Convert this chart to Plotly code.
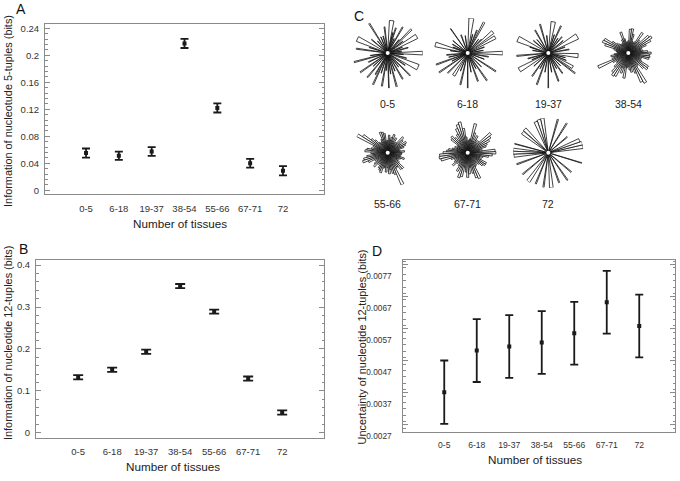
import plotly.graph_objects as go

W, H = 680, 481
FONT = "Liberation Sans, Arial, sans-serif"

# ---------------- data ----------------
categories = ["0-5", "6-18", "19-37", "38-54", "55-66", "67-71", "72"]

info5 = [0.055, 0.051, 0.0574, 0.2177, 0.122, 0.040, 0.0289]
info5_err = [0.0068, 0.0062, 0.0065, 0.0068, 0.0068, 0.0065, 0.0068]

info12 = [0.1323, 0.150, 0.193, 0.350, 0.289, 0.129, 0.048]
info12_err = [0.005, 0.005, 0.005, 0.005, 0.005, 0.005, 0.005]

unc12 = [0.00372, 0.00502, 0.00515, 0.00527, 0.00556, 0.00653, 0.00579]
unc12_err = [0.00099, 0.00098, 0.00098, 0.00098, 0.00098, 0.00098, 0.00098]

ticks5 = [0, 0.04, 0.08, 0.12, 0.16, 0.2, 0.24]
ticks12 = [0, 0.1, 0.2, 0.3, 0.4]
ticks_unc = [0.0027, 0.0037, 0.0047, 0.0057, 0.0067, 0.0077]

# radial glyphs (panel C): sparse glyphs as (angle, length, width)
ang_0_5 = [83, 76, 72, 66, 60, 50, 45, 38, 30, 22, 15, 8, 0, -5, -15, -25, -35, -45, -52, -60, -68, -75, -82, -88, -95, -100, -108, -115, -120, -130, -138, -145, -155, -165, -172, 172, 163, 155, 140, 130, 122, 113, 105, 97]
r_0_5 = [0.93, 0.6, 0.75, 0.45, 0.85, 0.5, 0.95, 0.55, 0.95, 0.45, 0.6, 0.4, 1.0, 0.45, 0.55, 0.95, 0.6, 0.9, 0.5, 0.85, 0.55, 1.0, 0.6, 1.0, 0.5, 0.95, 0.6, 1.0, 0.7, 0.9, 0.55, 0.95, 0.6, 1.0, 0.5, 0.9, 0.55, 0.95, 0.6, 0.45, 1.0, 0.5, 0.5, 0.75]
w_0_5 = [8, 1, 2, 1, 2, 1, 3, 1, 8, 1, 2, 1, 6, 1, 2, 10, 2, 2, 1, 2, 1, 2, 1, 1, 1, 2, 1, 2, 2, 2, 1, 2, 2, 2, 1, 2, 1, 9, 2, 1, 2, 1, 2, 2]

ang_6_18 = [84, 75, 68, 62, 52, 45, 40, 30, 20, 10, 0, -10, -20, -33, -45, -55, -62, -70, -80, -90, -103, -112, -122, -135, -146, -153, -160, -168, -175, 172, 165, 158, 150, 140, 125, 110, 98]
r_6_18 = [1.0, 0.55, 0.7, 1.0, 0.5, 0.55, 0.93, 0.9, 0.5, 0.45, 1.0, 0.6, 0.5, 0.95, 0.55, 0.95, 0.5, 0.85, 0.55, 1.0, 0.92, 0.55, 0.75, 0.8, 0.98, 0.5, 0.95, 0.55, 0.6, 0.5, 0.95, 0.45, 0.5, 0.55, 0.85, 0.55, 0.5]
w_6_18 = [8, 1, 2, 3, 1, 2, 6, 6, 2, 1, 6, 2, 1, 2, 1, 2, 1, 2, 1, 1, 2, 1, 6, 2, 2, 1, 2, 1, 2, 1, 8, 1, 2, 1, 1, 2, 1]

ang_19_37 = [81, 106, 95, 72, 65, 57, 50, 40, 30, 20, 10, -5, -15, -22, -30, -37, -46, -55, -62, -70, -80, -90, -100, -110, -118, -125, -138, -150, -158, -165, -175, 170, 162, 155, 140, 130, 120]
r_19_37 = [0.9, 0.85, 0.5, 0.55, 0.85, 0.5, 0.6, 0.55, 0.95, 0.5, 0.6, 0.85, 0.5, 0.55, 0.8, 0.95, 0.5, 0.7, 0.5, 0.85, 0.55, 1.0, 0.55, 0.95, 0.5, 0.8, 0.55, 0.95, 0.5, 0.6, 0.9, 0.45, 0.55, 0.95, 0.55, 0.5, 0.75]
w_19_37 = [8, 2, 2, 1, 2, 1, 2, 1, 10, 2, 2, 8, 1, 1, 6, 2, 1, 2, 1, 2, 1, 1, 1, 2, 1, 2, 1, 8, 1, 2, 2, 2, 1, 10, 2, 1, 2]

ang_72 = [100, 106, 112, 135, 142, 74, 58, 40, 10, 16, 22, -17, -40, -55, -70, -85, -98, -112, -125, -140, -160, 175, 180, 185, 165]
r_72 = [1.0, 0.98, 0.95, 0.95, 0.93, 1.0, 1.0, 0.7, 1.0, 1.0, 0.95, 1.0, 0.85, 0.95, 0.9, 1.0, 1.0, 0.95, 1.0, 0.95, 0.95, 1.0, 1.0, 0.98, 1.0]
w_72 = [6, 6, 6, 6, 6, 2, 2, 2, 6, 6, 6, 1, 2, 2, 2, 6, 2, 2, 6, 2, 2, 5, 5, 5, 1]

# dense glyphs: lengths every 5 degrees starting at 0 (east), counter-clockwise
dense_angles = list(range(0, 360, 5))
r_38_54 = [0.65, 0.55, 0.42, 0.36, 0.4, 0.55, 0.72, 0.8, 0.75, 0.42, 0.48, 0.7,
           0.36, 0.32, 0.35, 0.55, 0.7, 0.68, 0.35, 0.3, 0.32, 0.42, 0.63, 0.42,
           0.33, 0.3, 0.32, 0.36, 0.42, 0.55, 0.78, 0.8, 0.7, 0.42, 0.35, 0.32,
           0.3, 0.4, 0.5, 0.4, 0.48, 0.94, 0.5, 0.4, 0.42, 0.55, 0.7, 0.78,
           0.75, 0.45, 0.6, 0.42, 0.72, 0.42, 0.38, 0.48, 0.55, 0.4, 0.6, 0.9,
           0.97, 0.45, 0.42, 0.6, 0.7, 0.68, 0.42, 0.36, 0.4, 0.6, 0.62, 0.6]
r_55_66 = [0.4, 0.48, 0.36, 0.33, 0.48, 0.55, 0.6, 0.42, 0.55, 0.62, 0.38, 0.33,
           0.48, 0.36, 0.55, 0.45, 0.36, 0.5, 0.35, 0.33, 0.55, 0.6, 0.62, 0.42,
           0.36, 0.33, 0.38, 0.5, 0.6, 0.85, 1.0, 0.45, 0.36, 0.48, 0.6, 0.65,
           0.48, 0.42, 0.6, 0.7, 0.75, 0.6, 0.42, 0.36, 0.48, 0.55, 0.42, 0.36,
           0.5, 0.55, 0.6, 0.45, 0.42, 0.55, 0.42, 0.6, 0.48, 0.6, 0.65, 1.0,
           0.5, 0.48, 0.6, 0.62, 0.42, 0.36, 0.33, 0.4, 0.5, 0.38, 0.33, 0.4]
r_67_71 = [0.8, 0.78, 0.42, 0.36, 0.55, 0.6, 0.7, 0.78, 0.85, 0.45, 0.36, 0.45,
           0.55, 0.36, 0.6, 0.85, 0.4, 0.36, 0.33, 0.45, 0.7, 0.9, 0.85, 0.75,
           0.6, 0.42, 0.55, 0.65, 0.6, 0.36, 0.33, 0.4, 0.33, 0.45, 0.55, 0.6,
           0.7, 0.8, 0.82, 0.78, 0.5, 0.42, 0.36, 0.45, 0.55, 0.42, 0.36, 0.45,
           0.6, 0.45, 0.75, 0.7, 0.42, 0.55, 0.7, 0.6, 0.42, 0.6, 0.75, 0.8,
           0.45, 0.42, 0.36, 0.45, 0.55, 0.6, 0.6, 0.42, 0.36, 0.45, 0.6, 0.7]

# ---------------- figure ----------------
fig = go.Figure()

def px_x(x):
    return x / W

def px_y(y):
    return 1 - y / H

panels = [
    (info5, info5_err, "x", "y", 4),
    (info12, info12_err, "x2", "y2", 5),
    (unc12, unc12_err, "x3", "y3", 4),
]
xs = list(range(len(categories)))
for vals, errs, xa, ya, cw in panels:
    fig.add_trace(go.Scatter(
        x=xs, y=vals, mode="markers", xaxis=xa, yaxis=ya,
        marker=dict(symbol="square", size=4, color="#1a1a1a"),
        error_y=dict(type="data", array=errs, visible=True, color="#1a1a1a",
                     thickness=1.8, width=cw),
        showlegend=False, hoverinfo="skip",
    ))

glyphs = [
    ("0-5", ang_0_5, r_0_5, w_0_5, 387.7, 52.3, 0.8),
    ("6-18", ang_6_18, r_6_18, w_6_18, 467.7, 52.3, 0.8),
    ("19-37", ang_19_37, r_19_37, w_19_37, 548.3, 52.3, 0.8),
    ("38-54", dense_angles, r_38_54, [5] * len(dense_angles), 628.3, 52.3, 0.8),
    ("55-66", dense_angles, r_55_66, [5] * len(dense_angles), 387.7, 154.3, 0.8),
    ("67-71", dense_angles, r_67_71, [5] * len(dense_angles), 467.7, 154.3, 0.8),
    ("72", ang_72, r_72, w_72, 548.3, 154.3, 0.8),
]
R = 36
layout_polars = {}
annotations = []
for i, (lab, ang, rr, ww, cx, cy, lw) in enumerate(glyphs):
    key = "polar" if i == 0 else f"polar{i+1}"
    fig.add_trace(go.Barpolar(
        r=rr, theta=ang, width=ww, subplot=key,
        marker=dict(color="white", line=dict(color="#111", width=lw)),
        showlegend=False, hoverinfo="skip",
    ))
    fig.add_trace(go.Scatterpolar(
        r=[0], theta=[0], mode="markers", subplot=key,
        marker=dict(color="white", size=4), showlegend=False, hoverinfo="skip",
    ))
    layout_polars[key] = dict(
        domain=dict(x=[px_x(cx - R), px_x(cx + R)], y=[px_y(cy + R), px_y(cy - R)]),
        bgcolor="rgba(0,0,0,0)",
        radialaxis=dict(visible=False, range=[0, 1]),
        angularaxis=dict(visible=False, rotation=0, direction="counterclockwise"),
        hole=0,
    )
    label_y = 104.3 if cy < 100 else 206.7
    annotations.append(dict(x=px_x(cx), y=px_y(label_y), xref="paper", yref="paper",
                            text=lab, showarrow=False, font=dict(size=10.5, color="#222"),
                            xanchor="center", yanchor="middle"))

for t, x, y in [("A", 21, 7), ("B", 23, 253), ("C", 359, 14), ("D", 377, 255)]:
    annotations.append(dict(x=px_x(x), y=px_y(y), xref="paper", yref="paper", text=t,
                            showarrow=False, font=dict(size=14, color="#111"),
                            xanchor="center", yanchor="middle"))

for t, x, y in [("Number of tissues", 180, 227), ("Number of tissues", 173, 475),
                ("Number of tissues", 535, 468)]:
    annotations.append(dict(x=px_x(x), y=px_y(y), xref="paper", yref="paper", text=t,
                            showarrow=False, font=dict(size=11.7, color="#222"),
                            xanchor="center", yanchor="middle"))
for t, x, y in [("Information of nucleotude 5-tuples (bits)", 8.5, 112),
                ("Information of nucleotide 12-tuples (bits)", 8, 349),
                ("Uncertainty of nucleotide 12-tuples (bits)", 361.5, 353)]:
    annotations.append(dict(x=px_x(x), y=px_y(y), xref="paper", yref="paper", text=t,
                            textangle=-90, showarrow=False, font=dict(size=10.9, color="#222"),
                            xanchor="center", yanchor="middle"))

axis_line = "#8a8a8a"

def xaxis(domain, rng, anchor, fs):
    return dict(domain=domain, range=rng, anchor=anchor, tickvals=xs, ticktext=categories,
                showgrid=False, zeroline=False, showline=True, linecolor=axis_line,
                linewidth=1, mirror=True, ticks="", tickfont=dict(size=fs, color="#333"),
                ticklabelstandoff=5, fixedrange=True)

def yaxis(domain, rng, anchor, tvals, minor_dtick, fs, fmt=None, shift=0, standoff=4):
    d = dict(domain=domain, range=rng, anchor=anchor, tickvals=tvals,
             showgrid=False, zeroline=False, showline=True, linecolor=axis_line,
             linewidth=1, mirror="ticks", ticks="inside", ticklen=5, tickcolor=axis_line,
             tickwidth=1, tickfont=dict(size=fs, color="#333"),
             minor=dict(ticks="inside", ticklen=2.5, dtick=minor_dtick, tickcolor=axis_line,
                        showgrid=False),
             ticklabelstandoff=standoff, fixedrange=True)
    if fmt:
        d["tickformat"] = fmt
    if shift:
        d["ticklabelshift"] = shift
    return d

layout = dict(
    width=W, height=H, margin=dict(l=0, r=0, t=0, b=0),
    paper_bgcolor="white", plot_bgcolor="white",
    font=dict(family=FONT, color="#222"),
    xaxis=xaxis([px_x(45), px_x(324)], [-1.25, 7.25], "y", 9.5),
    yaxis=yaxis([px_y(197), px_y(23)], [-0.0064, 0.2458], "x", ticks5, 0.008, 9.5, standoff=3),
    xaxis2=xaxis([px_x(36), px_x(324)], [-1.24, 7.23], "y2", 9.5),
    yaxis2=yaxis([px_y(446), px_y(264)], [-0.0124, 0.4124], "x2", ticks12, 0.02, 9.5, standoff=3),
    xaxis3=xaxis([px_x(403.3), px_x(675)], [-1.26, 7.1], "y3", 8.6),
    yaxis3=yaxis([px_y(440), px_y(264)], [0.00248, 0.00785], "x3", ticks_unc, 0.0002, 8.3,
                 fmt=".4f", shift=11, standoff=9),
    annotations=annotations,
    showlegend=False,
)
layout.update(layout_polars)
fig.update_layout(**layout)

fig.write_html("out.html", config={"displayModeBar": False, "staticPlot": True},
               post_script="document.body.style.margin='0';document.body.style.overflow='hidden';")
